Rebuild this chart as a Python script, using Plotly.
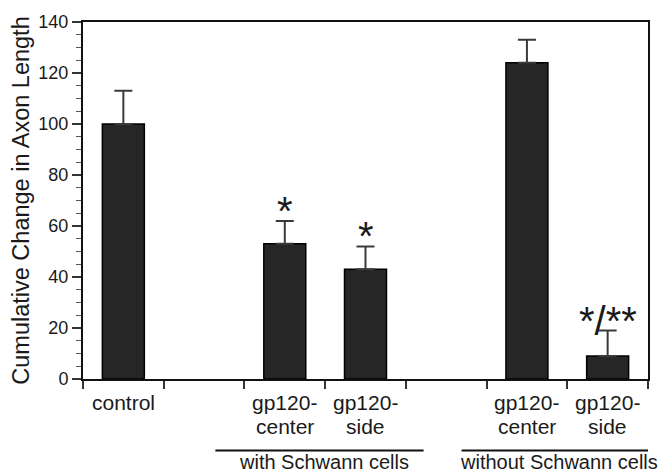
import plotly.graph_objects as go

categories = ["control", "gap1", "with-center", "with-side", "gap2",
              "without-center", "without-side"]
tick_line1 = ["control", "", "gp120-", "gp120-", "", "gp120-", "gp120-"]
tick_line2 = ["", "", "center", "side", "", "center", "side"]
values = [100, None, 53, 43, None, 124, 9]
errors = [13, None, 9, 9, None, 9, 10]
marks = ["", "", "*", "*", "", "", "*/**"]
groups = ["with Schwann cells", "without Schwann cells"]
group_centers = [2.48, 5.4]
group_spans = [(1.14, 3.72), (4.19, 7.2)]

FONT = "Liberation Sans, Arial, sans-serif"
TXT = "#1a1a1a"
fig = go.Figure()
fig.add_trace(go.Bar(
    x=categories, y=values, width=0.52,
    marker=dict(color="#262626", line=dict(color="#000000", width=1.5)),
    error_y=dict(type="data", array=errors,
                 arrayminus=[0 if e is not None else None for e in errors],
                 visible=True, color="#3a3a3a", thickness=2, width=9),
    showlegend=False, hoverinfo="skip",
))

for c, v, e, m in zip(categories, values, errors, marks):
    if m:
        fig.add_annotation(x=c, y=v + e, text=m, showarrow=False,
                           yanchor="middle", yshift=10,
                           font=dict(family=FONT, size=40, color=TXT))

for c, l1, l2 in zip(categories, tick_line1, tick_line2):
    if l1:
        fig.add_annotation(x=c, y=0, yref="paper", text=l1, showarrow=False,
                           yanchor="middle", yshift=-23,
                           font=dict(family=FONT, size=21, color=TXT))
    if l2:
        fig.add_annotation(x=c, y=0, yref="paper", text=l2, showarrow=False,
                           yanchor="middle", yshift=-47,
                           font=dict(family=FONT, size=21, color=TXT))

for (x0, x1), g, gc in zip(group_spans, groups, group_centers):
    fig.add_shape(type="line", xref="x", yref="paper", x0=x0, x1=x1,
                  y0=-0.2, y1=-0.2, line=dict(color="#111", width=2))
    fig.add_annotation(x=gc, xref="x", y=0, yref="paper", text=g,
                       showarrow=False, yanchor="middle", yshift=-83,
                       font=dict(family=FONT, size=20, color=TXT))

fig.update_layout(
    width=664, height=475,
    margin=dict(l=83, r=16, t=22, b=96),
    plot_bgcolor="white", paper_bgcolor="white",
    font=dict(family=FONT, size=18, color=TXT),
)
fig.update_xaxes(
    type="category", tickson="boundaries", ticks="outside", ticklen=8,
    tickwidth=1.5, tickcolor="#333", showline=True, linecolor="#111",
    linewidth=2, mirror=True, showgrid=False, range=[-0.5, 6.5],
    showticklabels=False,
)
fig.update_yaxes(
    range=[0, 140], tickvals=[0, 20, 40, 60, 80, 100, 120, 140],
    ticks="outside", ticklen=9, tickwidth=1.5, tickcolor="#333",
    showline=True, linecolor="#111", linewidth=2, mirror=True,
    showgrid=False, zeroline=False,
    minor=dict(dtick=5, ticks="outside", ticklen=5, tickwidth=1,
               tickcolor="#555", showgrid=False),
    title=dict(text="Cumulative Change in Axon Length", standoff=2,
               font=dict(size=23.5, color=TXT)),
    tickfont=dict(size=18, color=TXT),
)

fig.write_html(
    "out.html",
    config={"displayModeBar": False},
    post_script="document.body.style.margin='0';"
                "document.body.style.overflow='hidden';",
)
